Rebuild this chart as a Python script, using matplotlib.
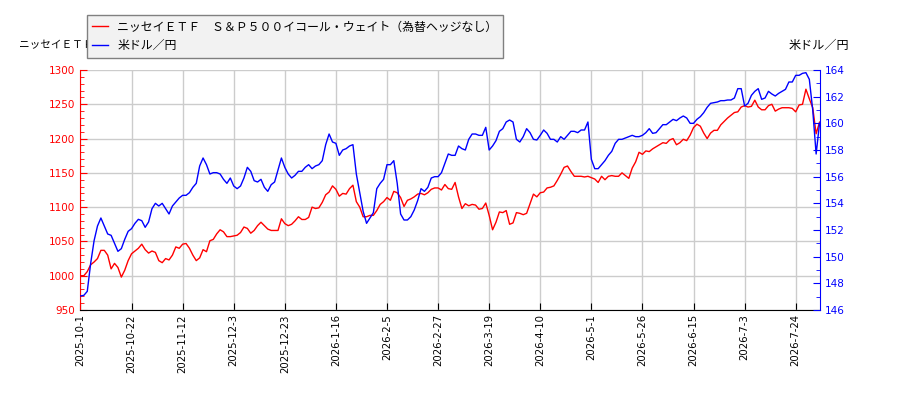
import numpy as np
import matplotlib
matplotlib.use("Agg")
import matplotlib.pyplot as plt
from matplotlib.ticker import MultipleLocator

jp_font = ['Noto Sans CJK JP', 'DejaVu Sans']

etf_name = "ニッセイＥＴＦ　Ｓ＆Ｐ５００イコール・ウェイト（為替ヘッジなし）"
fx_name = "米ドル／円"
left_label = "ニッセイＥＴＦ"
right_label = "米ドル／円"

# ticks every 15 trading days
tick_labels = ['2025-10-1', '2025-10-22', '2025-11-12', '2025-12-3', '2025-12-23',
               '2026-1-16', '2026-2-5', '2026-2-27', '2026-3-19', '2026-4-10',
               '2026-5-1', '2026-5-26', '2026-6-15', '2026-7-3', '2026-7-24']

etf = [1000, 1000, 1006, 1016, 1020, 1025, 1037, 1037, 1030, 1010,
       1018, 1012, 998, 1008, 1022, 1032, 1036, 1040, 1046, 1038,
       1033, 1036, 1034, 1022, 1019, 1025, 1023, 1030, 1042, 1040,
       1046, 1047, 1040, 1030, 1022, 1026, 1038, 1035, 1051, 1053,
       1061, 1067, 1064, 1057, 1057, 1058, 1059, 1063, 1071, 1069,
       1062, 1066, 1073, 1078, 1073, 1068, 1066, 1066, 1066, 1083,
       1076, 1073, 1075, 1080, 1086, 1082, 1082, 1085, 1100, 1098,
       1099, 1107, 1118, 1122, 1131, 1126, 1116, 1120, 1119, 1127,
       1132, 1108, 1100, 1086, 1086, 1088, 1088, 1095, 1104, 1108,
       1114, 1110, 1123, 1121, 1114, 1101, 1110, 1112, 1115, 1119,
       1120, 1118, 1121, 1126, 1128, 1128, 1125, 1133, 1127, 1126,
       1136, 1115, 1098, 1105, 1102, 1104, 1103, 1097, 1098, 1106,
       1088, 1067, 1078, 1093, 1092, 1095, 1075, 1077, 1092, 1091,
       1089, 1091, 1105, 1119, 1115, 1121, 1122, 1128, 1129, 1131,
       1139, 1148, 1158, 1160, 1152, 1145, 1145, 1145, 1144, 1145,
       1143, 1141, 1136, 1145, 1140, 1145, 1146, 1145, 1145, 1150,
       1146, 1142, 1157, 1166, 1180, 1177, 1182, 1181, 1185, 1188,
       1191, 1194, 1193, 1198, 1200, 1191, 1194, 1199, 1197, 1205,
       1216, 1221, 1218, 1208, 1200, 1208, 1212, 1212, 1220, 1225,
       1230, 1234, 1238, 1239, 1246, 1248, 1246, 1247, 1256, 1246,
       1242, 1242, 1248, 1250, 1240, 1243, 1245, 1245, 1245, 1244,
       1239, 1249, 1250, 1272, 1258, 1245, 1207, 1224]

usdjpy = [147.05, 147.1, 147.4, 149.5, 151.2, 152.3, 152.9, 152.3, 151.7, 151.6,
          151.0, 150.4, 150.6, 151.3, 151.9, 152.1, 152.5, 152.8, 152.7, 152.2,
          152.6, 153.6, 154.0, 153.8, 154.0, 153.6, 153.2, 153.8, 154.1, 154.4,
          154.6, 154.6, 154.8, 155.2, 155.5, 156.8, 157.4, 156.9, 156.2, 156.3,
          156.3, 156.2, 155.8, 155.5, 155.9, 155.3, 155.1, 155.3, 155.9, 156.7,
          156.4, 155.7, 155.6, 155.8, 155.2, 154.9, 155.4, 155.6, 156.5, 157.4,
          156.7, 156.2, 155.9, 156.1, 156.4, 156.4, 156.7, 156.9, 156.6, 156.8,
          156.9, 157.2, 158.4, 159.2, 158.6, 158.5, 157.6, 158.0, 158.1, 158.3,
          158.4, 156.2, 154.8, 153.4, 152.5, 152.9, 153.3, 155.1, 155.5, 155.8,
          156.9, 156.9, 157.2, 155.5, 153.2, 152.75, 152.75, 153.0, 153.5, 154.2,
          155.1, 154.9, 155.2, 155.9, 156.0, 156.0, 156.3, 157.0, 157.7, 157.6,
          157.6, 158.3, 158.1, 158.0, 158.8, 159.2, 159.2, 159.1, 159.1, 159.7,
          158.0, 158.3, 158.7, 159.4, 159.6, 160.1, 160.25, 160.1, 158.8, 158.6,
          159.0, 159.6, 159.3, 158.8, 158.75, 159.1, 159.5, 159.25, 158.8, 158.8,
          158.6, 159.0, 158.8, 159.1, 159.4, 159.4, 159.3, 159.5, 159.5, 160.1,
          157.3, 156.6, 156.6, 156.9, 157.2, 157.6, 157.9, 158.5, 158.8, 158.8,
          158.9, 159.0, 159.1, 159.0, 159.0, 159.1, 159.3, 159.6, 159.25, 159.3,
          159.6, 159.9, 159.9, 160.1, 160.3, 160.2, 160.4, 160.55, 160.4, 160.0,
          160.0, 160.3, 160.5, 160.8, 161.2, 161.5, 161.55, 161.6, 161.7, 161.7,
          161.75, 161.75, 161.9, 162.6, 162.6, 161.3, 161.5, 162.1, 162.4, 162.6,
          161.8, 161.9, 162.4, 162.2, 162.05, 162.25, 162.4, 162.55, 163.1, 163.1,
          163.6, 163.6, 163.75, 163.8, 163.3, 161.0, 157.7, 160.0]

x = np.arange(len(etf))

fig = plt.figure(figsize=(9, 4), dpi=100)
ax1 = fig.add_axes([0.0894, 0.225, 0.8212, 0.6])
ax2 = ax1.twinx()

l1, = ax1.plot(x, etf, color='#ff0000', lw=1.0)
l2, = ax2.plot(x, usdjpy, color='#0000ff', lw=1.0)

ax1.set_xlim(0, len(etf) - 1)
ax1.set_ylim(950, 1300)
ax2.set_ylim(146, 164)

ax1.set_xticks(np.arange(0, len(etf), 15))
ax1.set_xticklabels(tick_labels, rotation=90, fontsize=7.3)
ax1.yaxis.set_major_locator(MultipleLocator(50))
ax1.yaxis.set_minor_locator(MultipleLocator(10))
ax2.yaxis.set_major_locator(MultipleLocator(2))
ax2.yaxis.set_minor_locator(MultipleLocator(1))

ax1.grid(True, color='#cccccc', lw=1.0)
ax1.set_axisbelow(True)

ax1.tick_params(axis='x', direction='in', length=5, colors='black', pad=3)
ax1.tick_params(axis='y', which='major', direction='in', length=5, colors='#ff0000',
                labelsize=7.5, pad=4)
ax1.tick_params(axis='y', which='minor', direction='in', length=3, colors='#ff0000')
ax2.tick_params(axis='y', which='major', direction='in', length=5, colors='#0000ff',
                labelsize=7.5, pad=4)
ax2.tick_params(axis='y', which='minor', direction='in', length=3, colors='#0000ff')

for sp in ['top', 'right']:
    ax1.spines[sp].set_visible(False)
for sp in ['top', 'left', 'bottom']:
    ax2.spines[sp].set_visible(False)
ax1.spines['left'].set_color('#ff0000')
ax2.spines['right'].set_color('#0000ff')
ax1.spines['bottom'].set_color('black')

fig.text(0.021, 0.887, left_label, ha='left', va='center', fontsize=7.7, family=jp_font)
fig.text(0.944, 0.887, right_label, ha='right', va='center', fontsize=8.7, family=jp_font)

leg = fig.legend([l1, l2], [etf_name, fx_name], loc='upper left',
                 bbox_to_anchor=(0.0967, 0.9625), borderaxespad=0,
                 prop={'family': jp_font, 'size': 8.6}, fancybox=False,
                 facecolor='#f2f2f2', edgecolor='#808080', framealpha=1,
                 handlelength=1.3, handletextpad=0.8, labelspacing=0.5,
                 borderpad=0.45)
leg.get_frame().set_linewidth(1.0)

fig.savefig('out.png', dpi=100)
